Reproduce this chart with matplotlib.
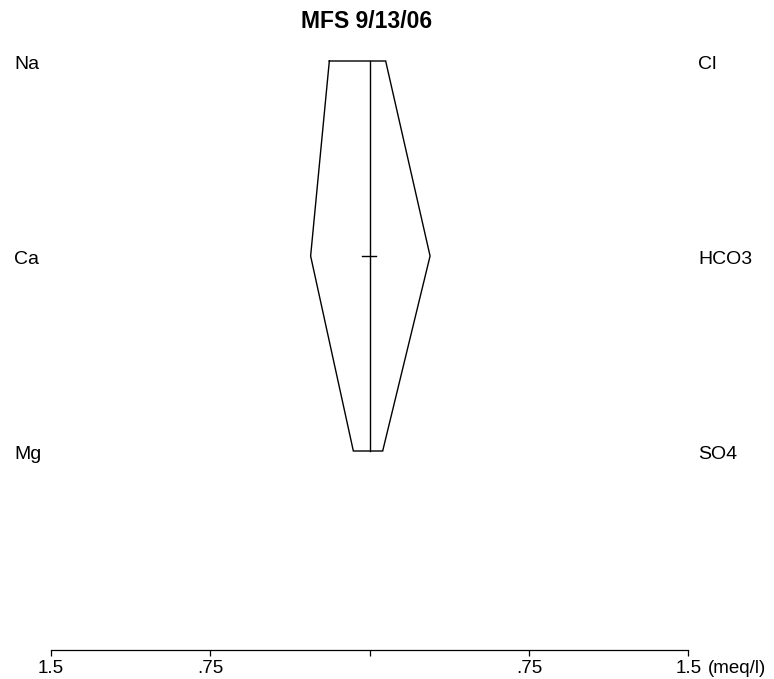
import matplotlib
matplotlib.use("Agg")
import matplotlib.pyplot as plt
import matplotlib.transforms as mtransforms

plt.rcParams['font.family'] = ['Liberation Sans', 'DejaVu Sans']

title = "MFS 9/13/06"
cations = ["Na", "Ca", "Mg"]
anions = ["Cl", "HCO3", "SO4"]
cation_vals = [0.189, 0.277, 0.076]   # meq/l
anion_vals = [0.076, 0.285, 0.062]    # meq/l
tick_pos = [-1.5, -0.75, 0, 0.75, 1.5]
tick_labels = ["1.5", ".75", "", ".75", "1.5"]
unit_label = "(meq/l)"

W, H, DPI = 774, 679, 100
fig = plt.figure(figsize=(W / DPI, H / DPI), dpi=DPI)

# layout in pixels
x_left_px, x_right_px = 50.7, 688.3
axis_px = 649.5
row0_px, row_step_px = 61.0, 195.0
scale = (x_right_px - x_left_px) / 3.0

ax = fig.add_axes([0, (H - axis_px) / H, 1, axis_px / H])
ax.set_xlim(-1.5 - x_left_px / scale, 1.5 + (W - x_right_px) / scale)
ax.set_ylim((axis_px - row0_px) / row_step_px, -row0_px / row_step_px)

n = len(cations)
rows = list(range(n))
xs = [-v for v in cation_vals] + [v for v in anion_vals[::-1]]
ys = rows + rows[::-1]
xs.append(xs[0]); ys.append(ys[0])
ax.plot(xs, ys, color='black', lw=1.0, solid_joinstyle='miter')

# center line and mid marker
ax.plot([0, 0], [rows[0], rows[-1]], color='black', lw=1.0)
ax.plot([-0.033, 0.03], [1, 1], color='black', lw=1.0)

for sp in ['top', 'left', 'right']:
    ax.spines[sp].set_visible(False)
ax.spines['bottom'].set_bounds(-1.5, 1.5)
ax.spines['bottom'].set_linewidth(0.9)
ax.set_yticks([])
ax.set_xticks(tick_pos)
ax.set_xticklabels(tick_labels, fontsize=13.5)
ax.tick_params(axis='x', direction='out', length=4.3, width=0.9, pad=3)

# unit label after last tick label
off = mtransforms.ScaledTranslation(0, -(4.3 + 3) / 72, fig.dpi_scale_trans)
trans = mtransforms.blended_transform_factory(ax.transData, ax.transAxes) + off
ax.text(1.5 + (708 - x_right_px) / scale, 0, unit_label, transform=trans,
        ha='left', va='top', fontsize=13.5)

# row labels
lt = mtransforms.blended_transform_factory(fig.transFigure, ax.transData)
for i, (c, a) in enumerate(zip(cations, anions)):
    ax.text(14 / W, i + 0.018, c, transform=lt, ha='left', va='center', fontsize=14)
    ax.text(698 / W, i + 0.018, a, transform=lt, ha='left', va='center', fontsize=14)

fig.text(367 / W, 1 - 21 / H, title, ha='center', va='center', fontsize=16.5,
         fontweight='bold')

fig.savefig("out.png", dpi=DPI)
